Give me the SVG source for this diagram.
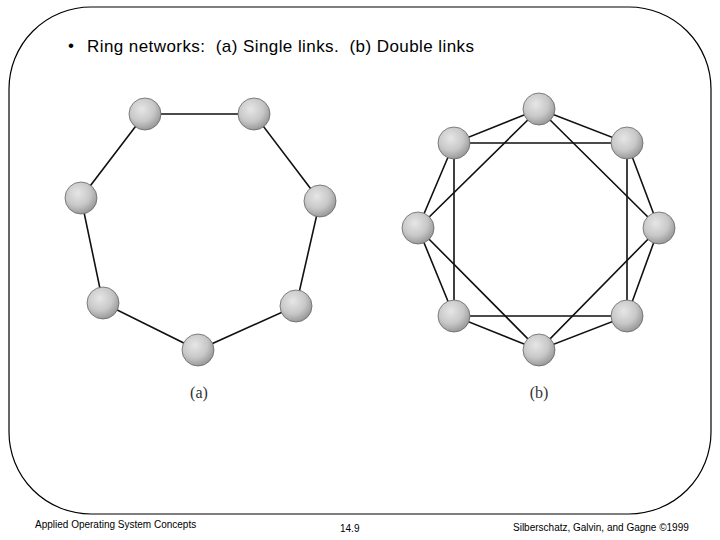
<svg xmlns="http://www.w3.org/2000/svg" width="720" height="540" viewBox="0 0 720 540">
<style>
.frame{fill:none;stroke:#000;stroke-width:1.2}
.link{stroke:#111;stroke-width:1.6;fill:none}
.node{fill:url(#sph);stroke:#666;stroke-width:0.8}
.title{font-family:"Liberation Sans",Arial,sans-serif;font-size:17px;fill:#000;white-space:pre}
.foot{font-family:"Liberation Sans",Arial,sans-serif;font-size:10px;fill:#000}
.lab{font-family:"Liberation Serif","Times New Roman",serif;font-size:16px;fill:#333}
</style>
<defs>
<radialGradient id="sph" cx="0.4" cy="0.35" r="0.65">
<stop offset="0" stop-color="#e6e6e6"/>
<stop offset="0.6" stop-color="#c8c8c8"/>
<stop offset="1" stop-color="#9a9a9a"/>
</radialGradient>
</defs>
<rect class="frame" x="9" y="7" width="702" height="507" rx="82" ry="82"/>
<g id="title">
<text class="title" x="68" y="51">•</text>
<text class="title" x="87" y="52" xml:space="preserve" textLength="387" lengthAdjust="spacing">Ring networks:  (a) Single links.  (b) Double links</text>
</g>
<g id="connectors">
<polyline class="link" points="145,114 254,114 320,201 296,306 198,350 103,303 81,198 145,114"/>
<polygon class="link" points="539,109 627,143 659,228 627,316 539,350 454,316 418,228 454,143"/>
<polygon class="link" points="539,109 659,228 539,350 418,228"/>
<polygon class="link" points="454,143 627,143 627,316 454,316"/>
</g>
<g id="ringA">
<g id="a1"><circle class="node" cx="145" cy="114" r="16"/></g>
<g id="a2"><circle class="node" cx="254" cy="114" r="16"/></g>
<g id="a3"><circle class="node" cx="320" cy="201" r="16"/></g>
<g id="a4"><circle class="node" cx="296" cy="306" r="16"/></g>
<g id="a5"><circle class="node" cx="198" cy="350" r="16"/></g>
<g id="a6"><circle class="node" cx="103" cy="303" r="16"/></g>
<g id="a7"><circle class="node" cx="81" cy="198" r="16"/></g>
</g>
<g id="ringB">
<g id="b1"><circle class="node" cx="539" cy="109" r="16"/></g>
<g id="b2"><circle class="node" cx="627" cy="143" r="16"/></g>
<g id="b3"><circle class="node" cx="659" cy="228" r="16"/></g>
<g id="b4"><circle class="node" cx="627" cy="316" r="16"/></g>
<g id="b5"><circle class="node" cx="539" cy="350" r="16"/></g>
<g id="b6"><circle class="node" cx="454" cy="316" r="16"/></g>
<g id="b7"><circle class="node" cx="418" cy="228" r="16"/></g>
<g id="b8"><circle class="node" cx="454" cy="143" r="16"/></g>
</g>
<g id="labels">
<text class="lab" x="199" y="398" text-anchor="middle">(a)</text>
<text class="lab" x="539" y="398" text-anchor="middle">(b)</text>
</g>
<g id="footer">
<text class="foot" x="35" y="528">Applied Operating System Concepts</text>
<text class="foot" x="340" y="532">14.9</text>
<text class="foot" x="513" y="531">Silberschatz, Galvin, and Gagne ©1999</text>
</g>
</svg>
